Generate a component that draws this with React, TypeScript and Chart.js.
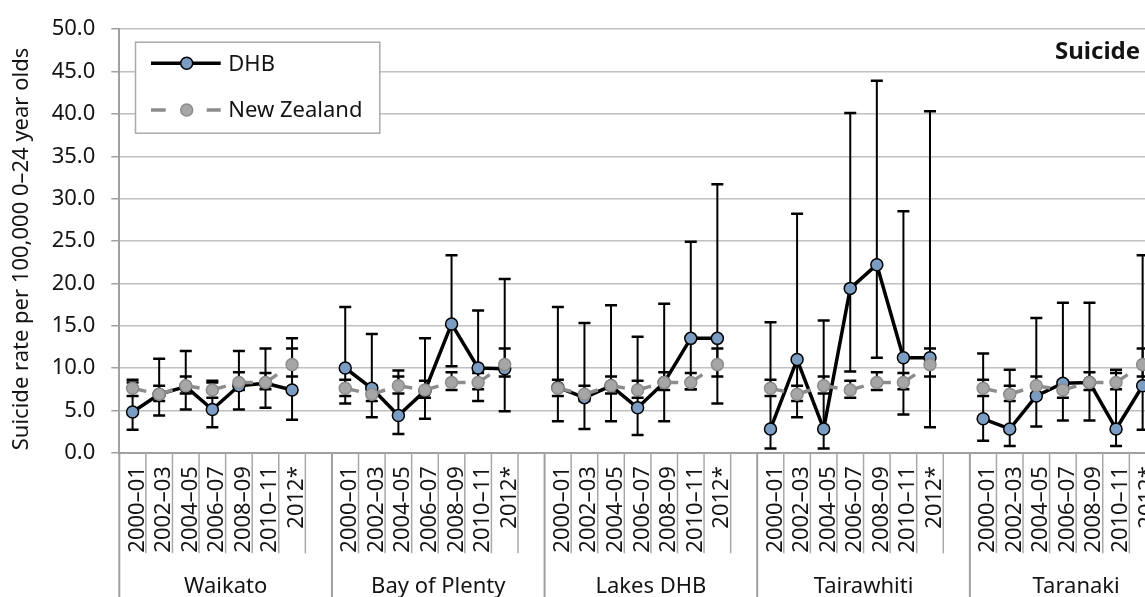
import React, { useEffect, useRef } from 'react';
import { Chart, registerables } from 'chart.js';

Chart.register(...registerables);

// ---------- data ----------
const groups = ['Waikato', 'Bay of Plenty', 'Lakes DHB', 'Tairawhiti', 'Taranaki'];
const periods = ['2000–01', '2002–03', '2004–05', '2006–07', '2008–09', '2010–11', '2012*'];

const waikatoRate = [4.8, 6.9, 7.8, 5.1, 7.9, 8.2, 7.4];
const waikatoLower = [2.7, 4.4, 5.1, 3.0, 5.1, 5.3, 3.9];
const waikatoUpper = [8.3, 11.1, 12.0, 8.3, 12.0, 12.3, 13.5];

const bopRate = [10.0, 7.6, 4.4, 7.3, 15.2, 10.0, 9.9];
const bopLower = [5.8, 4.2, 2.2, 4.0, 10.2, 6.1, 4.9];
const bopUpper = [17.2, 14.0, 9.7, 13.5, 23.3, 16.8, 20.5];

const lakesRate = [7.7, 6.5, 7.9, 5.3, 8.3, 13.5, 13.5];
const lakesLower = [3.7, 2.8, 3.7, 2.1, 3.7, 7.5, 5.8];
const lakesUpper = [17.2, 15.3, 17.4, 13.7, 17.6, 24.9, 31.7];

const tairawhitiRate = [2.8, 11.0, 2.8, 19.4, 22.2, 11.2, 11.2];
const tairawhitiLower = [0.5, 4.2, 0.5, 9.6, 11.2, 4.5, 3.0];
const tairawhitiUpper = [15.4, 28.2, 15.6, 40.1, 43.9, 28.5, 40.3];

const taranakiRate = [4.0, 2.8, 6.7, 8.2, 8.3, 2.8, 7.9];
const taranakiLower = [1.4, 0.8, 3.1, 3.8, 3.8, 0.8, 2.7];
const taranakiUpper = [11.7, 9.8, 15.9, 17.7, 17.7, 9.8, 23.3];

const nzRate = [7.6, 6.9, 7.9, 7.4, 8.3, 8.3, 10.4];
const nzLower = [6.7, 6.1, 7.0, 6.5, 7.4, 7.5, 9.0];
const nzUpper = [8.6, 7.9, 9.0, 8.5, 9.5, 9.4, 12.3];

const yTitle = 'Suicide rate per 100,000 0–24 year olds';
const cornerLabel = 'Suicide';

// ---------- derived tables ----------
const labels: string[] = [];
groups.forEach(() => {
  periods.forEach((p) => labels.push(p));
  labels.push('');
});
const SLOTS = periods.length + 1;
const flat = (arrs: number[][]) => arrs.flatMap((a) => [...a, null]);
const dhbData = flat([waikatoRate, bopRate, lakesRate, tairawhitiRate, taranakiRate]);
const dhbLo = flat([waikatoLower, bopLower, lakesLower, tairawhitiLower, taranakiLower]);
const dhbHi = flat([waikatoUpper, bopUpper, lakesUpper, tairawhitiUpper, taranakiUpper]);
const nzData = flat(groups.map(() => nzRate));
const nzLo = flat(groups.map(() => nzLower));
const nzHi = flat(groups.map(() => nzUpper));

const FONT = '"Noto Sans", "DejaVu Sans", sans-serif';
const TEXT = '#141414';
const AXIS = '#a0a0a0';
const BLUE = '#7b9dc3';
const GREY_FILL = '#a6a6a6';
const GREY_LINE = '#8c8c8c';

const decor = {
  id: 'decor',
  beforeDatasetsDraw(chart: any) {
    const ctx = chart.ctx;
    const xs = chart.scales.x;
    const ys = chart.scales.y;
    ctx.save();
    ctx.strokeStyle = '#000';
    const bars = (lo: (number | null)[], hi: (number | null)[]) => {
      lo.forEach((l, i) => {
        const h = hi[i];
        if (l == null || h == null) return;
        const px = xs.getPixelForValue(i);
        const y1 = ys.getPixelForValue(l);
        const y2 = ys.getPixelForValue(h);
        ctx.lineWidth = 2;
        ctx.beginPath();
        ctx.moveTo(px, y1);
        ctx.lineTo(px, y2);
        ctx.stroke();
        ctx.lineWidth = 2.5;
        ctx.beginPath();
        ctx.moveTo(px - 6, y1);
        ctx.lineTo(px + 6, y1);
        ctx.moveTo(px - 6, y2);
        ctx.lineTo(px + 6, y2);
        ctx.stroke();
      });
    };
    bars(dhbLo, dhbHi);
    bars(nzLo, nzHi);
    ctx.restore();
  },
  afterDraw(chart: any) {
    const ctx = chart.ctx;
    const xs = chart.scales.x;
    const area = chart.chartArea;
    const H = chart.height;
    const slotW = xs.getPixelForValue(1) - xs.getPixelForValue(0);
    const axisY = area.bottom;
    ctx.save();

    // separators
    for (let i = 0; i <= labels.length; i++) {
      const bx = xs.getPixelForValue(0) - slotW / 2 + i * slotW;
      const long = i % SLOTS === 0;
      ctx.strokeStyle = long ? AXIS : '#a8a8a8';
      ctx.lineWidth = long ? 2 : 1.5;
      ctx.beginPath();
      ctx.moveTo(bx, axisY);
      ctx.lineTo(bx, long ? H : axisY + 100.6);
      ctx.stroke();
    }

    // period labels
    ctx.fillStyle = TEXT;
    ctx.font = `22px ${FONT}`;
    labels.forEach((lab, i) => {
      if (!lab) return;
      const px = xs.getPixelForValue(i);
      ctx.save();
      ctx.translate(px + 11, axisY + 13.5);
      ctx.rotate(-Math.PI / 2);
      ctx.textAlign = 'right';
      ctx.textBaseline = 'alphabetic';
      ctx.fillText(lab, 0, 0);
      ctx.restore();
    });

    // group labels
    ctx.textAlign = 'center';
    ctx.textBaseline = 'alphabetic';
    groups.forEach((g, gi) => {
      const x0 = xs.getPixelForValue(gi * SLOTS) - slotW / 2;
      const cx = x0 + (SLOTS * slotW) / 2;
      ctx.fillText(g, cx, axisY + 140.5);
    });

    // y title
    ctx.save();
    ctx.translate(28, 249);
    ctx.rotate(-Math.PI / 2);
    ctx.textAlign = 'center';
    ctx.textBaseline = 'alphabetic';
    ctx.fillText(yTitle, 0, 0);
    ctx.restore();

    // corner label
    ctx.font = `bold 24px ${FONT}`;
    ctx.textAlign = 'left';
    ctx.fillText(cornerLabel, 1055, 59.3);

    // legend
    const lx = 135, ly = 41.7, lw = 244.3, lh = 91;
    ctx.fillStyle = '#fff';
    ctx.fillRect(lx, ly, lw, lh);
    ctx.strokeStyle = '#aaaaaa';
    ctx.lineWidth = 1.5;
    ctx.strokeRect(lx + 0.5, ly + 0.5, lw, lh);

    const e1 = 63.3, e2 = 110;
    ctx.strokeStyle = '#000';
    ctx.lineWidth = 3.5;
    ctx.beginPath();
    ctx.moveTo(151, e1);
    ctx.lineTo(220.7, e1);
    ctx.stroke();
    ctx.beginPath();
    ctx.arc(186.7, e1, 6, 0, Math.PI * 2);
    ctx.fillStyle = BLUE;
    ctx.fill();
    ctx.lineWidth = 1.5;
    ctx.strokeStyle = '#000';
    ctx.stroke();

    ctx.strokeStyle = GREY_LINE;
    ctx.lineWidth = 3.5;
    ctx.beginPath();
    ctx.moveTo(151, e2);
    ctx.lineTo(165.7, e2);
    ctx.moveTo(206.7, e2);
    ctx.lineTo(220.7, e2);
    ctx.stroke();
    ctx.beginPath();
    ctx.arc(186.7, e2, 6, 0, Math.PI * 2);
    ctx.fillStyle = GREY_FILL;
    ctx.fill();
    ctx.lineWidth = 1.5;
    ctx.strokeStyle = GREY_LINE;
    ctx.stroke();

    ctx.fillStyle = TEXT;
    ctx.font = `22px ${FONT}`;
    ctx.textAlign = 'left';
    ctx.textBaseline = 'middle';
    ctx.fillText('DHB', 228.3, e1 + 1);
    ctx.fillText('New Zealand', 228.3, e2 + 1);

    ctx.restore();
  },
};

const CANVAS_W = 1190;
const CANVAS_H = 597;
const PLOT_LEFT = 119.3;
const PLOT_RIGHT = 1185.3;
const PLOT_TOP = 25;
const PLOT_BOTTOM = 452.7;

export default function App() {
  const ref = useRef<HTMLCanvasElement>(null);
  useEffect(() => {
    const chart = new Chart(ref.current as HTMLCanvasElement, {
      type: 'line',
      data: {
        labels,
        datasets: [
          {
            label: 'DHB',
            data: dhbData,
            borderColor: '#000',
            borderWidth: 3.5,
            borderJoinStyle: 'round',
            pointRadius: 6,
            pointBackgroundColor: BLUE,
            pointBorderColor: '#000',
            pointBorderWidth: 1.5,
            tension: 0,
            order: 1,
          },
          {
            label: 'New Zealand',
            data: nzData,
            borderColor: GREY_LINE,
            borderWidth: 3.5,
            borderDash: [14, 60],
            pointRadius: 6,
            pointBackgroundColor: GREY_FILL,
            pointBorderColor: GREY_LINE,
            pointBorderWidth: 1.5,
            tension: 0,
            order: 0,
            segment: {
              borderDashOffset: (c: any) => (c.p0DataIndex % 2 ? 0.001 : 0),
            },
          },
        ],
      } as any,
      options: {
        responsive: false,
        animation: false,
        layout: {
          padding: { top: PLOT_TOP, left: 0, right: CANVAS_W - PLOT_RIGHT, bottom: 0 },
        },
        plugins: {
          legend: { display: false },
          tooltip: { enabled: false },
          title: { display: false },
        },
        scales: {
          x: {
            type: 'category',
            offset: true,
            grid: { display: false },
            ticks: { display: false },
            border: { display: true, color: AXIS, width: 2 },
            afterFit: (s: any) => {
              s.height = CANVAS_H - PLOT_BOTTOM;
            },
          },
          y: {
            min: 0,
            max: 50,
            ticks: {
              stepSize: 5,
              callback: (v: any) => Number(v).toFixed(1),
              font: { family: FONT, size: 22 },
              color: TEXT,
              padding: 16,
            },
            grid: {
              color: '#c0c0c0',
              lineWidth: 1.5,
              tickLength: 8,
              tickColor: AXIS,
              drawTicks: true,
            },
            border: { color: AXIS, width: 2 },
            afterFit: (s: any) => {
              s.width = PLOT_LEFT;
            },
          },
        },
      } as any,
      plugins: [decor],
    });
    return () => chart.destroy();
  }, []);
  return (
    <div
      style={{
        position: 'fixed',
        left: 0,
        top: 0,
        width: 1145,
        height: 597,
        overflow: 'hidden',
        background: '#fff',
      }}
    >
      <canvas
        ref={ref}
        width={CANVAS_W}
        height={CANVAS_H}
        style={{ display: 'block', width: CANVAS_W, height: CANVAS_H }}
      />
    </div>
  );
}
